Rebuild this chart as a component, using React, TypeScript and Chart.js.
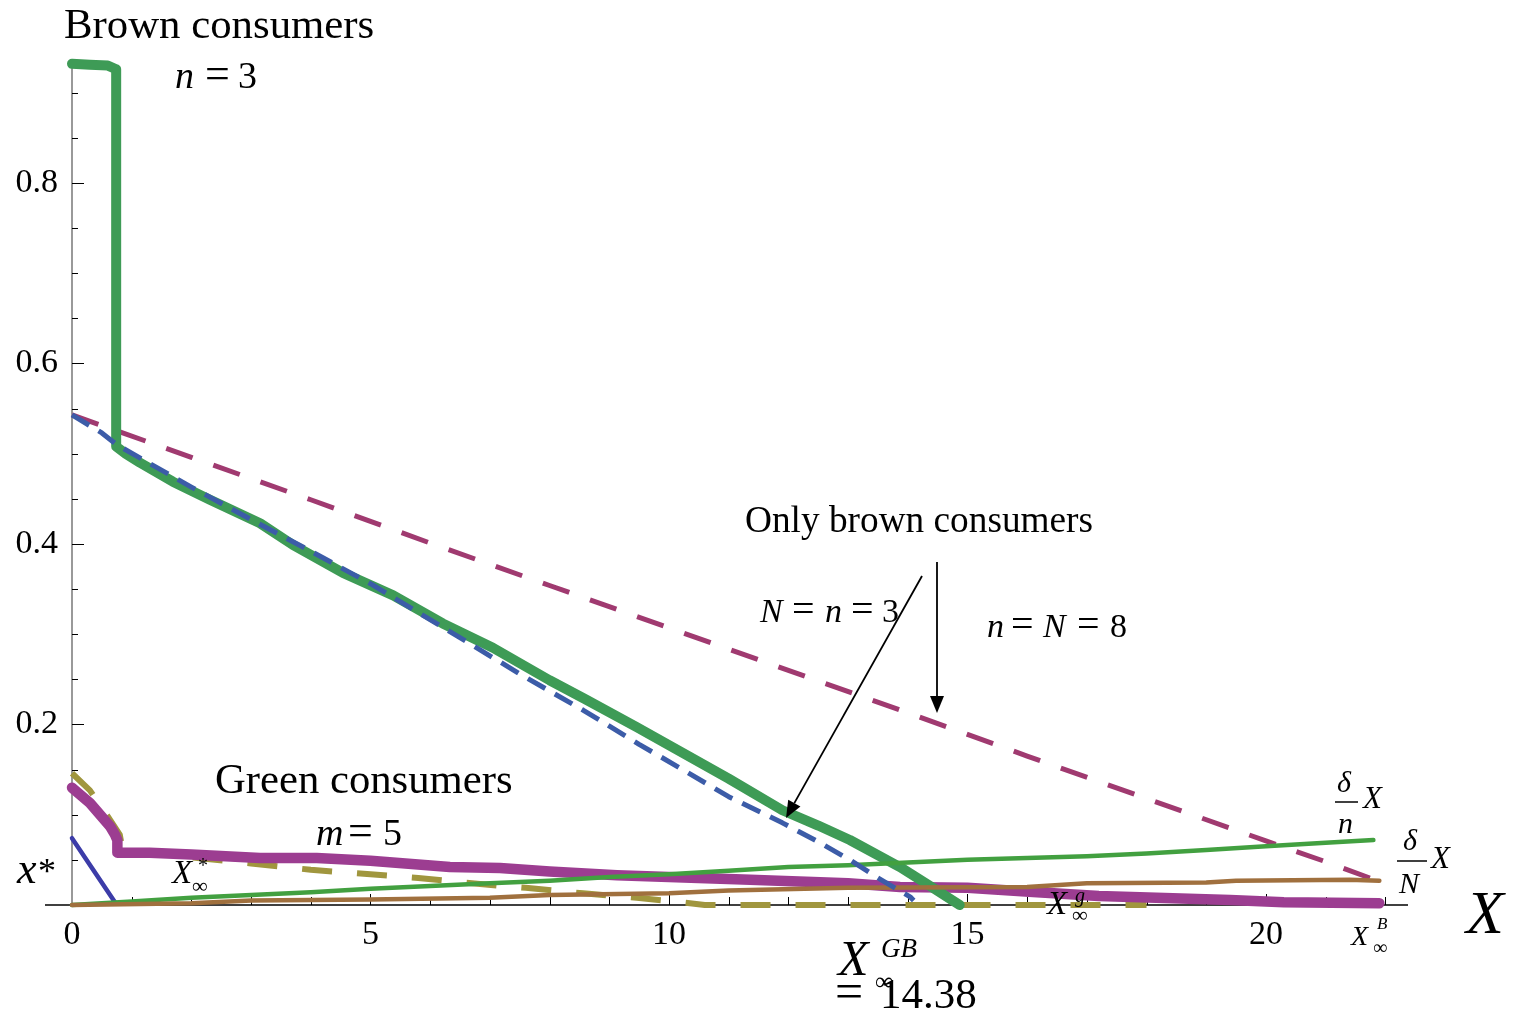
import React, { useEffect, useRef } from "react";
import { Chart, registerables } from "chart.js";

Chart.register(...registerables);

// ---------- data ----------
const X_TICK_LABELS = [0, 5, 10, 15, 20];
const Y_TICK_LABELS = [0.2, 0.4, 0.6, 0.8];

// Brown consumers, n = 3 (thick green)
const brownN3X = [0, 0.3, 0.6, 0.74, 0.74, 0.9, 1.14, 1.69, 2.31, 3.15, 3.7, 4.54, 5.38, 6.21, 7.05, 8.0, 8.6, 9.46, 10.35, 11.0, 11.9, 12.5, 13.03, 13.87, 14.4, 14.87];
const brownN3Y = [0.932, 0.931, 0.93, 0.926, 0.508, 0.5, 0.49, 0.469, 0.449, 0.423, 0.399, 0.368, 0.343, 0.312, 0.285, 0.249, 0.228, 0.197, 0.164, 0.14, 0.105, 0.088, 0.072, 0.042, 0.02, 0];

// Only brown consumers N = n = 3 (blue dashed)
const onlyBrown3X = [0, 0.5, 0.75, 1.2, 2, 3, 4, 5, 6.33, 7.5, 8.56, 9.5, 10.23, 11.0, 11.9, 12.5, 13.03, 13.5, 14.04, 14.1];
const onlyBrown3Y = [0.543, 0.523, 0.51, 0.493, 0.463, 0.427, 0.392, 0.356, 0.303, 0.256, 0.216, 0.178, 0.15, 0.12, 0.091, 0.07, 0.05, 0.03, 0.009, 0.005];

// Only brown consumers n = N = 8 (magenta dashed)
const onlyBrown8X = [0, 2, 4, 6, 8, 10, 12, 14, 16, 18, 20, 21, 21.9];
const onlyBrown8Y = [0.543, 0.496, 0.449, 0.401, 0.354, 0.307, 0.26, 0.213, 0.165, 0.118, 0.071, 0.048, 0.026];

// delta/n X (thin green)
const deltaNX = [0, 1, 2, 3, 4, 5, 6, 7, 8, 9, 10, 11, 12, 13, 14, 15, 16, 17, 18, 19, 20, 21, 21.8];
const deltaNY = [0, 0.004, 0.008, 0.011, 0.014, 0.018, 0.021, 0.024, 0.027, 0.031, 0.034, 0.038, 0.042, 0.044, 0.047, 0.05, 0.052, 0.054, 0.057, 0.061, 0.065, 0.069, 0.072];

// delta/N X (brown)
const deltaBigNX = [0, 2, 3, 5, 7, 8, 10, 11, 13, 16, 17, 19, 19.5, 21.4, 21.9];
const deltaBigNY = [0, 0.002, 0.005, 0.006, 0.008, 0.011, 0.013, 0.016, 0.019, 0.02, 0.024, 0.025, 0.027, 0.028, 0.027];

// Green consumers, m = 5 (thick magenta)
const greenM5X = [0, 0.3, 0.64, 0.72, 0.76, 0.76, 1.3, 2, 3.15, 4.1, 5, 6.33, 7.17, 8, 9.13, 10, 11.36, 13, 13.87, 15.0, 16.1, 17.2, 18.3, 19.4, 20.3, 21.9];
const greenM5Y = [0.13, 0.113, 0.087, 0.078, 0.072, 0.058, 0.058, 0.056, 0.052, 0.052, 0.049, 0.042, 0.041, 0.037, 0.033, 0.031, 0.028, 0.024, 0.02, 0.019, 0.0145, 0.01, 0.0078, 0.0055, 0.003, 0.002];

// olive dashed
const oliveX = [0, 0.3, 0.6, 0.8, 0.85, 1.5, 3, 4, 5, 5.8, 6.7, 7.6, 8.56, 9.46, 10.2, 10.6, 18];
const oliveY = [0.146, 0.127, 0.098, 0.078, 0.06, 0.056, 0.046, 0.039, 0.034, 0.03, 0.024, 0.019, 0.013, 0.008, 0.003, 0, 0];

// blue solid (x*)
const xStarX = [0, 0.72];
const xStarY = [0.074, 0.003];

const zip = (xs: number[], ys: number[]) => xs.map((x, i) => ({ x, y: ys[i] }));

const SERIF = '"Liberation Serif", "Times New Roman", serif';

const W = 1515;
const H = 1014;

function mkDs(data: any, color: string, width: number, dash: number[] = [], cap: CanvasLineCap = "round") {
  return {
    data,
    borderColor: color,
    backgroundColor: color,
    borderWidth: width,
    borderDash: dash,
    borderCapStyle: cap,
    borderJoinStyle: "round" as CanvasLineJoin,
    pointRadius: 0,
    pointHoverRadius: 0,
    tension: 0,
    fill: false,
    clip: false as any,
  };
}

const decorPlugin = {
  id: "decor",
  beforeDatasetsDraw(chart: any) {
    const ctx: CanvasRenderingContext2D = chart.ctx;
    const xs = chart.scales.x;
    const ys = chart.scales.y;
    const x0 = xs.getPixelForValue(0);
    const y0 = ys.getPixelForValue(0);
    ctx.save();
    ctx.strokeStyle = "#000";
    ctx.lineWidth = 1.3;
    ctx.beginPath();
    ctx.moveTo(45, y0);
    ctx.lineTo(chart.chartArea.right, y0);
    ctx.stroke();
    ctx.strokeStyle = "#555";
    ctx.lineWidth = 1.2;
    ctx.beginPath();
    ctx.moveTo(x0, y0);
    ctx.lineTo(x0, chart.chartArea.top);
    ctx.stroke();
    ctx.strokeStyle = "#000";
    ctx.lineWidth = 1;
    for (let v = 1; v <= 22; v++) {
      const px = Math.round(xs.getPixelForValue(v)) + 0.5;
      const len = v % 5 === 0 ? 11 : 8;
      ctx.beginPath();
      ctx.moveTo(px, y0);
      ctx.lineTo(px, y0 - len);
      ctx.stroke();
    }
    for (let k = 1; k <= 18; k++) {
      const v = k * 0.05;
      const py = Math.round(ys.getPixelForValue(v)) + 0.5;
      const len = k % 4 === 0 ? 12 : 6;
      ctx.beginPath();
      ctx.moveTo(x0, py);
      ctx.lineTo(x0 + len, py);
      ctx.stroke();
    }
    ctx.restore();
  },
  afterDraw(chart: any) {
    const ctx: CanvasRenderingContext2D = chart.ctx;
    ctx.save();
    ctx.fillStyle = "#000";
    ctx.strokeStyle = "#000";
    ctx.textBaseline = "alphabetic";
    ctx.textAlign = "left";
    const t = (s: string, x: number, y: number, size: number, italic = false) => {
      ctx.font = `${italic ? "italic " : ""}${size}px ${SERIF}`;
      ctx.fillText(s, x, y);
    };

    // titles
    t("Brown consumers", 64, 38, 42.8);
    t("n", 175, 88, 38, true);
    t("=", 205, 88, 44);
    t("3", 238, 88, 38);

    t("Green consumers", 215, 793, 42.7);
    t("m", 316, 845, 38, true);
    t("=", 348, 845, 44);
    t("5", 383, 845, 38);

    t("Only brown consumers", 745, 532, 37.3);
    t("N", 760, 622, 34, true);
    t("=", 792, 622, 40);
    t("n", 825, 622, 34, true);
    t("=", 851, 622, 40);
    t("3", 882, 622, 34);

    t("n", 987, 637, 34, true);
    t("=", 1011, 637, 40);
    t("N", 1043, 637, 34, true);
    t("=", 1077, 637, 40);
    t("8", 1110, 637, 34);

    // x*
    t("x", 17, 883, 44, true);
    t("*", 38, 883, 36);

    // X_inf^*
    t("X", 172, 883, 33, true);
    t("*", 198, 872, 20);
    t("\u221E", 192, 893, 22);

    // X_inf^g
    t("X", 1047, 914, 33, true);
    t("g", 1075, 902, 20, true);
    t("\u221E", 1072, 922, 22);

    // X_inf^B
    t("X", 1351, 945, 28, true);
    t("B", 1377, 929, 17, true);
    t("\u221E", 1373, 954, 20);

    // X_inf^GB = 14.38
    t("X", 838, 975, 50, true);
    t("GB", 881, 957, 27, true);
    t("\u221E", 875, 990, 26);
    t("=", 835, 1008, 50);
    t("14.38", 880, 1008, 43);

    // big X axis label
    t("X", 1466, 933, 62, true);

    // delta/n X
    t("\u03B4", 1337, 792, 30, true);
    ctx.lineWidth = 1.5;
    ctx.beginPath();
    ctx.moveTo(1335, 802);
    ctx.lineTo(1358, 802);
    ctx.stroke();
    t("n", 1338, 833, 30, true);
    t("X", 1363, 808, 31, true);

    // delta/N X
    t("\u03B4", 1403, 850, 30, true);
    ctx.beginPath();
    ctx.moveTo(1397, 861);
    ctx.lineTo(1427, 861);
    ctx.stroke();
    t("N", 1399, 893, 30, true);
    t("X", 1431, 868, 31, true);

    // arrows
    const arrow = (x1: number, y1: number, x2: number, y2: number) => {
      const ang = Math.atan2(y2 - y1, x2 - x1);
      const hl = 17;
      const hw = 7;
      const bx = x2 - hl * Math.cos(ang);
      const by = y2 - hl * Math.sin(ang);
      ctx.lineWidth = 1.8;
      ctx.beginPath();
      ctx.moveTo(x1, y1);
      ctx.lineTo(bx, by);
      ctx.stroke();
      ctx.beginPath();
      ctx.moveTo(x2, y2);
      ctx.lineTo(bx + hw * Math.sin(ang), by - hw * Math.cos(ang));
      ctx.lineTo(bx - hw * Math.sin(ang), by + hw * Math.cos(ang));
      ctx.closePath();
      ctx.fill();
    };
    arrow(922, 576, 786, 818);
    arrow(937, 562, 937, 713);

    ctx.restore();
  },
};

export default function App() {
  const ref = useRef<HTMLCanvasElement>(null);

  useEffect(() => {
    const canvas = ref.current;
    if (!canvas) return;
    const datasets = [
      mkDs(zip(onlyBrown3X, onlyBrown3Y), "rgb(60,92,168)", 5, [20, 11], "butt"),
      mkDs(zip(deltaBigNX, deltaBigNY), "rgb(160,112,62)", 4.5),
      mkDs(zip(deltaNX, deltaNY), "rgb(66,160,64)", 4.5),
      mkDs(zip(brownN3X, brownN3Y), "rgb(62,155,86)", 10),
      mkDs(zip(greenM5X, greenM5Y), "rgb(156,61,145)", 10.5),
      mkDs(zip(oliveX, oliveY), "rgb(160,150,62)", 6, [30, 25], "butt"),
      mkDs(zip(onlyBrown8X, onlyBrown8Y), "rgb(160,58,112)", 5, [28, 22], "butt"),
      mkDs(zip(xStarX, xStarY), "rgb(60,60,168)", 4.5),
    ];
    const tickFont = { family: SERIF, size: 34 };
    const chart = new Chart(canvas, {
      type: "line",
      data: { datasets: datasets as any },
      options: {
        animation: false,
        responsive: false,
        devicePixelRatio: 1,
        events: [],
        layout: { padding: { top: 62, right: 107, left: 0, bottom: 0 } },
        plugins: {
          legend: { display: false },
          tooltip: { enabled: false },
          title: { display: false },
        },
        scales: {
          x: {
            type: "linear",
            min: 0,
            max: 22.38,
            grid: { display: false, drawTicks: false },
            border: { display: false },
            ticks: {
              stepSize: 5,
              includeBounds: false,
              autoSkip: false,
              maxRotation: 0,
              padding: 10,
              color: "#000",
              font: tickFont,
              callback: (v: any) => (X_TICK_LABELS.some((t) => Math.abs(t - v) < 1e-9) ? String(Math.round(v)) : ""),
            },
            afterFit: (s: any) => {
              s.height = 109;
            },
          },
          y: {
            type: "linear",
            min: 0,
            max: 0.934,
            grid: { display: false, drawTicks: false },
            border: { display: false },
            ticks: {
              stepSize: 0.2,
              includeBounds: false,
              autoSkip: false,
              padding: 14,
              color: "#000",
              font: tickFont,
              callback: (v: any) => (Y_TICK_LABELS.some((t) => Math.abs(t - v) < 1e-9) ? Number(v).toFixed(1) : ""),
            },
            afterFit: (s: any) => {
              s.width = 72;
            },
          },
        },
      },
      plugins: [decorPlugin],
    });
    return () => chart.destroy();
  }, []);

  return (
    <div style={{ position: "fixed", left: 0, top: 0, width: W, height: H, background: "#fff" }}>
      <canvas ref={ref} width={W} height={H} style={{ display: "block", width: W, height: H }} />
    </div>
  );
}
